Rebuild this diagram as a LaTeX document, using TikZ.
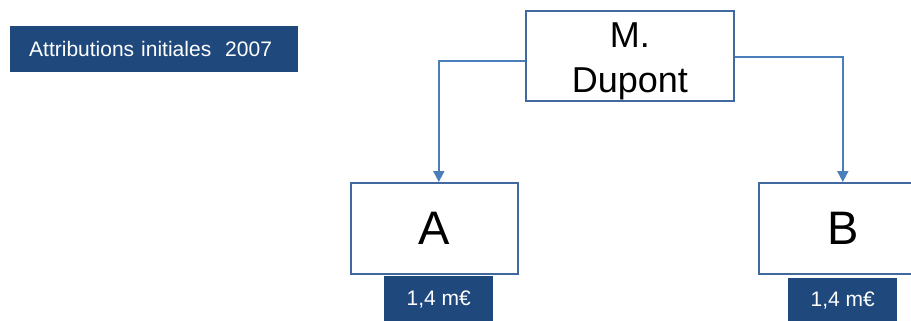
\documentclass[tikz,border=0pt]{standalone}
\usepackage{fontspec}
\setmainfont{Liberation Sans}
\usetikzlibrary{arrows.meta,calc}
\definecolor{darkbox}{RGB}{31,73,125}
\definecolor{boxline}{RGB}{65,105,160}
\definecolor{conn}{RGB}{74,126,187}
\tikzset{
  tag/.style={fill=darkbox, text=white, inner sep=0pt, anchor=north west, font=\fontsize{21bp}{24bp}\selectfont},
  person/.style={draw=boxline, line width=1.6bp, fill=white, inner sep=0pt, anchor=north west, align=center},
  link/.style={draw=conn, line width=1.8bp, -{Triangle[length=11bp,width=11bp]}}
}
\begin{document}
\begin{tikzpicture}[x=1bp,y=-1bp]
\useasboundingbox (0,0) rectangle (911,320);
\clip (0,0) rectangle (911,320);
\node[tag, text width=288bp, align=left, minimum height=46bp] (title) at (10,26) {\hspace*{19bp}Attributions initiales\ \ 2007};
\node[person, minimum width=208bp, minimum height=90bp, font=\fontsize{36bp}{45bp}\selectfont] (M) at (525,10) {\rule{0pt}{36bp}M.\\Dupont};
\node[person, minimum width=167bp, minimum height=91bp, font=\fontsize{47bp}{50bp}\selectfont] (A) at (350,182) {A};
\node[person, minimum width=168bp, minimum height=91bp, font=\fontsize{47bp}{50bp}\selectfont] (B) at (758,182) {B};
\node[tag, minimum width=109bp, minimum height=46bp] (va) at (384,276) {1,4 m€};
\node[tag, minimum width=109bp, minimum height=44bp] (vb) at (788,278) {1,4 m€};
\draw[link] ([yshift=-5bp]M.west) -| ([xshift=4.5bp]A.north);
\draw[link] ([yshift=-1bp]M.east) -| (B.north);
\end{tikzpicture}
\end{document}
